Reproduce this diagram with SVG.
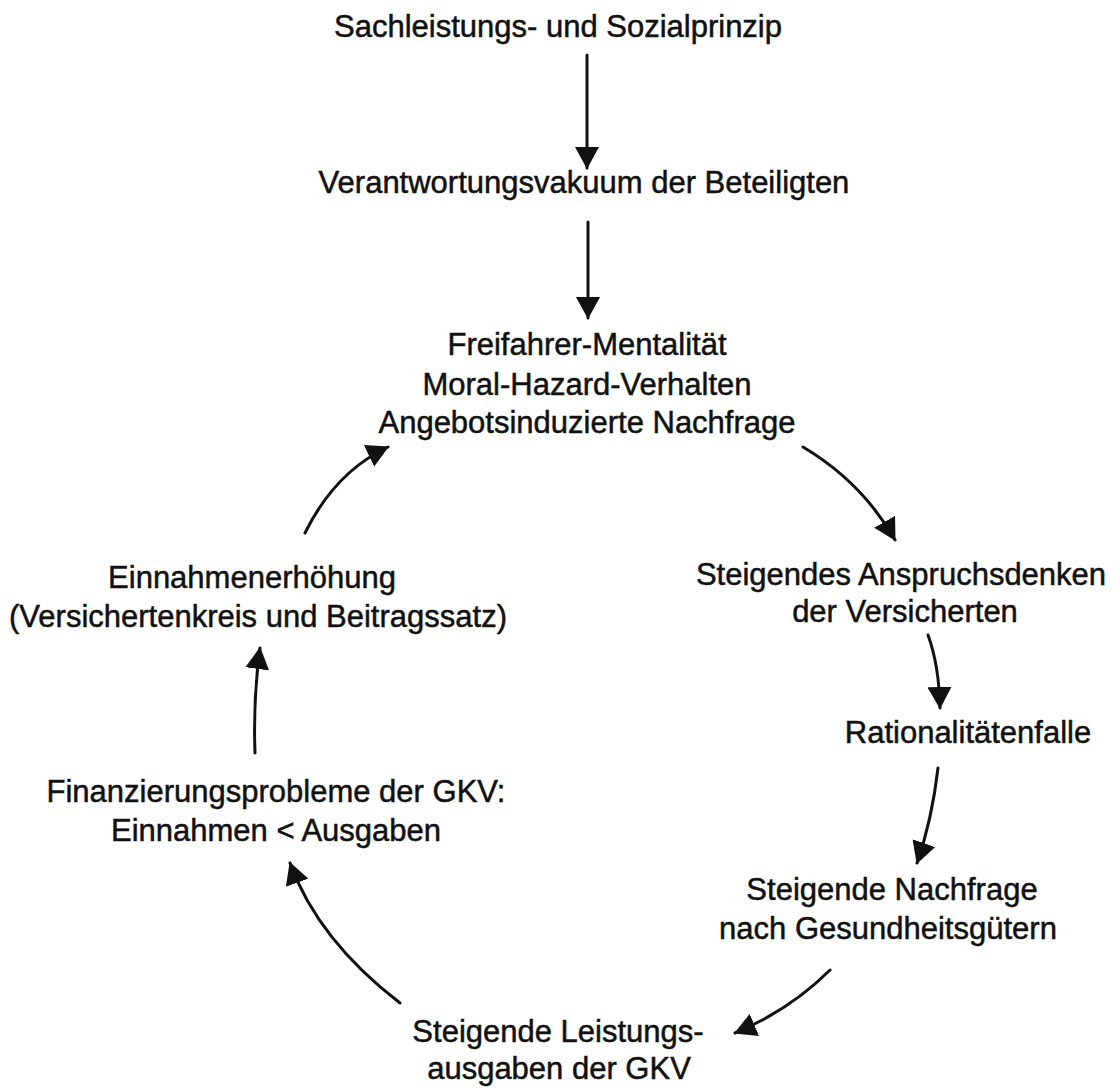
<svg xmlns="http://www.w3.org/2000/svg" width="1119" height="1091" viewBox="0 0 1119 1091">
  <style>
    .lbl { font-family: "Liberation Sans", Arial, Helvetica, sans-serif; font-size: 31px; fill: #111; stroke: #111; stroke-width: 0.5; text-anchor: middle; }
    .edge { fill: none; stroke: #111; stroke-width: 3; stroke-linecap: round; marker-end: url(#head); }
  </style>
  <defs>
    <marker id="head" markerUnits="userSpaceOnUse" viewBox="0 0 22 24" markerWidth="22" markerHeight="24" refX="21" refY="12" orient="auto">
      <path d="M0,0 L22,12 L0,24 Z" fill="#111"/>
    </marker>
  </defs>
  <rect width="1119" height="1091" fill="#fff"/>

  <!-- connectors -->
  <g id="connectors">
    <path class="edge" d="M587,55 L587,168"/>
    <path class="edge" d="M588,222 L588,318"/>
    <path class="edge" d="M803,447 Q862,482 895,540"/>
    <path class="edge" d="M928,635 Q939,665 940,708"/>
    <path class="edge" d="M938,768 Q932,820 917,863"/>
    <path class="edge" d="M830,970 Q790,1010 735,1033"/>
    <path class="edge" d="M400,1003 Q318,940 290,863"/>
    <path class="edge" d="M255,753 Q253,700 260,648"/>
    <path class="edge" d="M305,533 Q335,472 388,447"/>
  </g>

  <!-- nodes -->
  <g id="sachleistung">
    <text class="lbl" x="558" y="37">Sachleistungs- und Sozialprinzip</text>
  </g>
  <g id="vakuum">
    <text class="lbl" x="584" y="193">Verantwortungsvakuum der Beteiligten</text>
  </g>
  <g id="freifahrer">
    <text class="lbl" x="587" y="355">Freifahrer-Mentalität</text>
    <text class="lbl" x="587" y="395">Moral-Hazard-Verhalten</text>
    <text class="lbl" x="587" y="433">Angebotsinduzierte Nachfrage</text>
  </g>
  <g id="anspruchsdenken">
    <text class="lbl" x="901" y="585">Steigendes Anspruchsdenken</text>
    <text class="lbl" x="905" y="622">der Versicherten</text>
  </g>
  <g id="rationalitaetenfalle">
    <text class="lbl" x="968" y="743">Rationalitätenfalle</text>
  </g>
  <g id="nachfrage">
    <text class="lbl" x="892" y="900">Steigende Nachfrage</text>
    <text class="lbl" x="888" y="939">nach Gesundheitsgütern</text>
  </g>
  <g id="leistungsausgaben">
    <text class="lbl" x="558" y="1042">Steigende Leistungs-</text>
    <text class="lbl" x="559" y="1079">ausgaben der GKV</text>
  </g>
  <g id="finanzierung">
    <text class="lbl" x="276" y="802">Finanzierungsprobleme der GKV:</text>
    <text class="lbl" x="276" y="841">Einnahmen &lt; Ausgaben</text>
  </g>
  <g id="einnahmen">
    <text class="lbl" x="252" y="588">Einnahmenerhöhung</text>
    <text class="lbl" x="258" y="627">(Versichertenkreis und Beitragssatz)</text>
  </g>
</svg>
